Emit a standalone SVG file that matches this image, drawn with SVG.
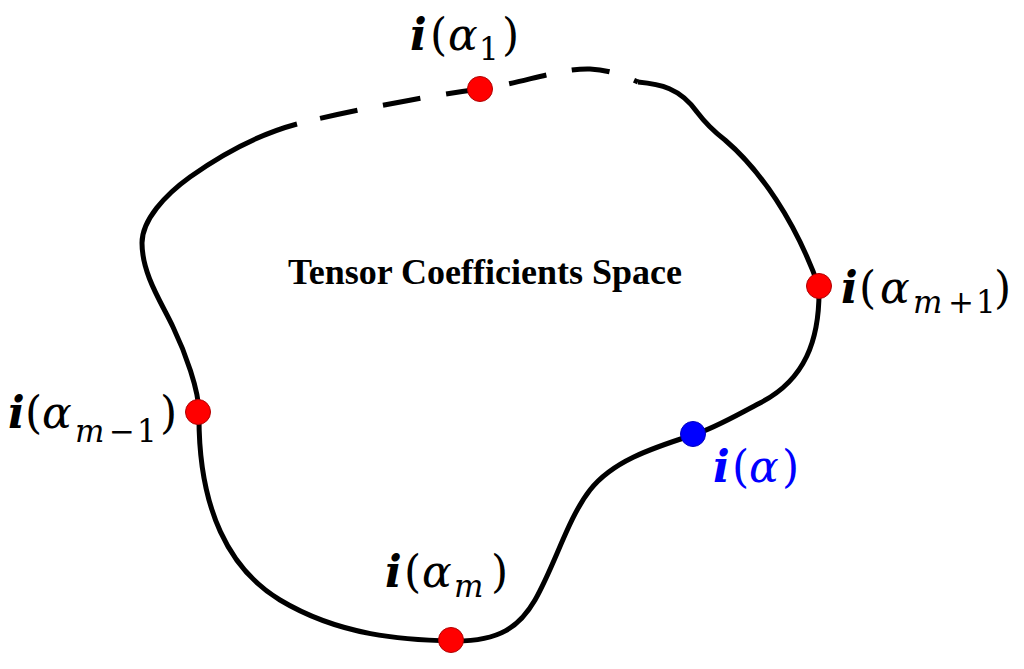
<svg xmlns="http://www.w3.org/2000/svg" width="1024" height="669" viewBox="0 0 1024 669">
<style>
.curve{fill:none;stroke:#000;stroke-width:5}
.dash{stroke-dasharray:38 26;stroke-dashoffset:40}
.red{fill:#FF0000;stroke:#B00000;stroke-width:1}
.blue{fill:#0000FF;stroke:#0000C0;stroke-width:1}
.lbl{font-family:"DejaVu Serif","Liberation Serif",serif;font-size:44px;fill:#000}
.lbl .bi{font-weight:bold;font-style:italic}
.lbl .it{font-style:italic}
.lbl .sub{font-size:31px}
.title{font-family:"Liberation Serif","Times New Roman",serif;font-weight:bold;font-size:36px;fill:#000}
</style>
<rect width="1024" height="669" fill="#fff"/>
<g id="connectors">
<path class="curve dash" d="M297,124 C340,113 420,97 480,89 C520,84 560,68 590,69 C610,70 625,76 638,82"/>
<path class="curve" d="M638,82 C660,84 680,88 697,112 C706,124 712,130 725,140 C760,170 795,220 819,287 C820,340 805,380 760,403 C735,416 715,428 693,435 C649,449 612,462 590,490 C568,518 555,565 535,600 C520,626 500,642 452,641 C404,640 340,636 280,600 C230,570 198,510 199,413 C199,390 185,352 173,327 C163,305 142,275 142,243 C142,220 165,195 190,177 C225,152 260,134 297,124"/>
</g>
<g id="title">
<text class="title" x="485" y="284" text-anchor="middle">Tensor Coefficients Space</text>
</g>
<g id="node-alpha1">
<circle class="red" cx="480" cy="89" r="12.5"/>
<text class="lbl"><tspan class="bi" x="410" y="50">i</tspan><tspan x="430" y="50">(</tspan><tspan class="it" x="448" y="50">α</tspan><tspan class="sub" x="479" y="60">1</tspan><tspan x="502" y="50">)</tspan></text>
</g>
<g id="node-alpha-m-minus-1">
<circle class="red" cx="198" cy="412" r="12.5"/>
<text class="lbl"><tspan class="bi" x="8" y="428">i</tspan><tspan x="25" y="428">(</tspan><tspan class="it" x="42" y="428">α</tspan><tspan class="sub it" x="75" y="442">m</tspan><tspan class="sub" x="109" y="442">−</tspan><tspan class="sub" x="137" y="442">1</tspan><tspan x="160" y="428">)</tspan></text>
</g>
<g id="node-alpha-m-plus-1">
<circle class="red" cx="819" cy="286" r="12.5"/>
<text class="lbl"><tspan class="bi" x="841" y="303">i</tspan><tspan x="859" y="303">(</tspan><tspan class="it" x="880" y="303">α</tspan><tspan class="sub it" x="913" y="313">m</tspan><tspan class="sub" x="948" y="313">+</tspan><tspan class="sub" x="976" y="313">1</tspan><tspan x="994" y="303">)</tspan></text>
</g>
<g id="node-alpha">
<circle class="blue" cx="693" cy="434" r="12.5"/>
<text class="lbl" style="fill:#0000FF"><tspan class="bi" x="713" y="482">i</tspan><tspan x="732" y="482">(</tspan><tspan class="it" x="749" y="482">α</tspan><tspan x="782" y="482">)</tspan></text>
</g>
<g id="node-alpha-m">
<circle class="red" cx="451" cy="640" r="12.5"/>
<text class="lbl"><tspan class="bi" x="385" y="587">i</tspan><tspan x="404" y="587">(</tspan><tspan class="it" x="422" y="587">α</tspan><tspan class="sub it" x="454" y="597">m</tspan><tspan x="491" y="587">)</tspan></text>
</g>
</svg>
